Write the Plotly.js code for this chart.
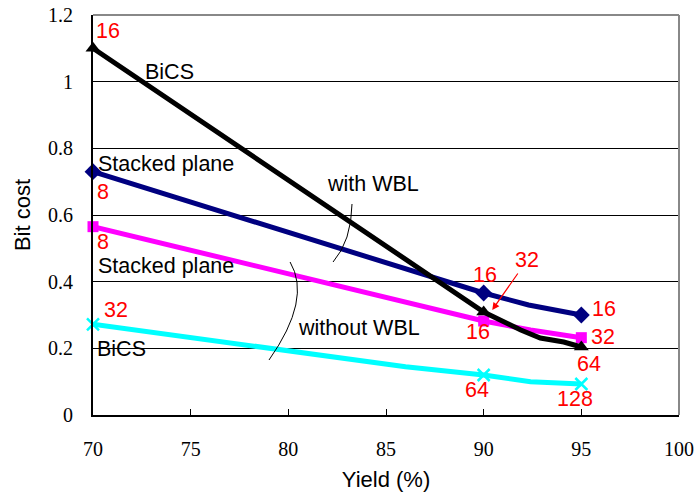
<!DOCTYPE html>
<html><head><meta charset="utf-8">
<script src="https://cdn.plot.ly/plotly-3.0.1.min.js"></script>
<style>html,body{margin:0;padding:0;background:#fff;}#chart{width:697px;height:494px;}</style>
</head><body><div id="chart"></div>
<script>
// Marked yields
const markedYields = [70, 90, 95];
// Series (including unmarked bends)
const bicsWblX = [70, 85, 90, 91.9, 92.9, 94.1, 95];
const bicsWblY = [1.10, 0.505, 0.309, 0.255, 0.231, 0.219, 0.204];
const stackWblX = [70, 90, 92.3, 95];
const stackWblY = [0.730, 0.366, 0.330, 0.300];
const stackNoX = [70, 90, 92.4, 95];
const stackNoY = [0.565, 0.282, 0.255, 0.232];
const bicsNoX = [70, 86, 90, 92.4, 95];
const bicsNoY = [0.272, 0.145, 0.120, 0.100, 0.093];
// Tick labels
const xTicks = [70, 75, 80, 85, 90, 95, 100];
const yTicks = [0, 0.2, 0.4, 0.6, 0.8, 1.0, 1.2];
const yTickText = ['0', '0.2', '0.4', '0.6', '0.8', '1', '1.2'];
// Red layer-count labels: [text, x, y]
const countLabels = [
  ['16', 70.79, 1.152], ['8', 70.51, 0.669], ['8', 70.51, 0.519], ['32', 71.18, 0.315],
  ['16', 90.07, 0.4215], ['16', 89.71, 0.249], ['16', 96.14, 0.3195], ['32', 96.11, 0.2355],
  ['64', 95.39, 0.1545], ['64', 89.68, 0.0765], ['128', 94.65, 0.0495]
];
// Black text labels: [text, x, y]
const nameLabels = [
  ['BiCS', 73.94, 1.029], ['Stacked plane', 73.74, 0.753], ['Stacked plane', 73.74, 0.447],
  ['BiCS', 71.46, 0.198], ['with WBL', 84.31, 0.693], ['without WBL', 83.64, 0.261]
];

function sizes(xs, s) { return xs.map(v => markedYields.includes(v) ? s : 0); }

const traces = [
  {x: stackWblX, y: stackWblY, mode: 'lines+markers', line: {color: '#000080', width: 5},
   marker: {symbol: 'diamond', size: sizes(stackWblX, 13), color: '#000080', opacity: 1, line: {width: 0}}, cliponaxis: false},
  {x: stackNoX, y: stackNoY, mode: 'lines+markers', line: {color: '#FF00FF', width: 5},
   marker: {symbol: 'square', size: sizes(stackNoX, 11), color: '#FF00FF', opacity: 1, line: {width: 0}}, cliponaxis: false},
  {x: bicsNoX, y: bicsNoY, mode: 'lines+markers', line: {color: '#00FFFF', width: 5},
   marker: {symbol: 'x-thin', size: sizes(bicsNoX, 12), opacity: 1, line: {color: '#00FFFF', width: 2.5}}, cliponaxis: false},
  {x: bicsWblX, y: bicsWblY, mode: 'lines+markers', line: {color: '#000000', width: 5},
   marker: {symbol: 'triangle-up', size: sizes(bicsWblX, 13), color: '#000000', opacity: 1, line: {width: 0}}, cliponaxis: false}
];

const FS = 21.5;
const annotations = [];
countLabels.forEach(([t, x, y]) => annotations.push({text: t, x: x, y: y, xref: 'x', yref: 'y', showarrow: false,
  font: {family: 'Liberation Sans, Arial, sans-serif', size: FS, color: '#FF0000'}, xanchor: 'center', yanchor: 'middle'}));
nameLabels.forEach(([t, x, y]) => annotations.push({text: t, x: x, y: y, xref: 'x', yref: 'y', showarrow: false,
  font: {family: 'Liberation Sans, Arial, sans-serif', size: FS, color: '#000000'}, xanchor: 'center', yanchor: 'middle'}));
// Arrow "32"
annotations.push({text: '32', x: 90.44, y: 0.315, xref: 'x', yref: 'y', showarrow: true, ax: 35, ay: -50,
  arrowcolor: '#FF0000', arrowwidth: 1.2, arrowhead: 2, arrowsize: 1.2, standoff: 0,
  font: {family: 'Liberation Sans, Arial, sans-serif', size: FS, color: '#FF0000'}});

const layout = {
  width: 697, height: 494,
  margin: {l: 93, r: 18, t: 15, b: 79},
  paper_bgcolor: '#fff', plot_bgcolor: '#fff',
  showlegend: false,
  xaxis: {range: [70, 100], tickvals: xTicks, ticktext: xTicks.map(String), showgrid: false, zeroline: false,
    showline: true, linecolor: '#000', linewidth: 2, ticks: 'inside', ticklen: 6, tickcolor: '#000', tickwidth: 1,
    ticklabelstandoff: 15,
    tickfont: {family: 'Liberation Serif, serif', size: 20, color: '#000'},
    title: {text: 'Yield (%)', font: {family: 'Liberation Sans, Arial, sans-serif', size: 22, color: '#000'}, standoff: 13}},
  yaxis: {range: [0, 1.2], tickvals: yTicks, ticktext: yTickText, showgrid: true, gridcolor: '#000', gridwidth: 1, zeroline: false,
    showline: true, linecolor: '#000', linewidth: 2, ticks: '', ticklabelstandoff: 14,
    tickfont: {family: 'Liberation Serif, serif', size: 20, color: '#000'},
    title: {text: 'Bit cost', font: {family: 'Liberation Sans, Arial, sans-serif', size: 22, color: '#000'}, standoff: 11}},
  annotations: annotations,
  shapes: [
    {type: 'line', xref: 'paper', yref: 'paper', x0: 0, x1: 1, y0: 1, y1: 1, line: {color: '#888', width: 2}},
    {type: 'line', xref: 'paper', yref: 'paper', x0: 1, x1: 1, y0: 0, y1: 1, line: {color: '#888', width: 2}},
    {type: 'path', xref: 'x', yref: 'y', path: 'M 83.26,0.633 Q 83.23,0.522 82.29,0.459', line: {color: '#000', width: 1}},
    {type: 'path', xref: 'x', yref: 'y', path: 'M 80.09,0.459 Q 81.21,0.348 79.01,0.165', line: {color: '#000', width: 1}}
  ]
};
Plotly.newPlot('chart', traces, layout, {displayModeBar: false, staticPlot: true});
</script></body></html>
